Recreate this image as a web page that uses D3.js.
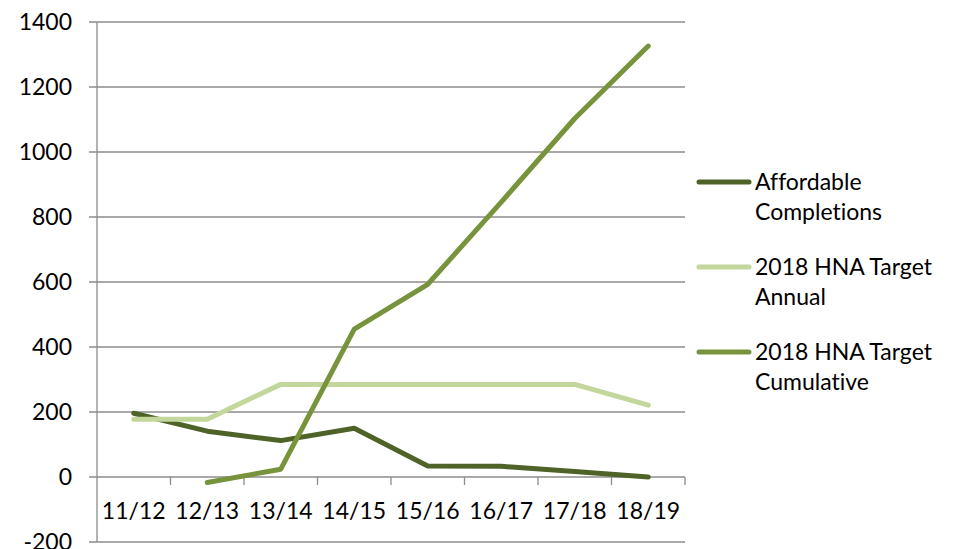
<!DOCTYPE html>
<html><head><meta charset="utf-8">
<script src="https://cdn.jsdelivr.net/npm/d3@7"></script>
<style>body{margin:0;background:#fff}svg{display:block}text{font-family:Lato,"Open Sans",sans-serif;fill:#000;font-variant-ligatures:none;font-feature-settings:"liga" 0}</style>
</head><body><svg id="c" width="960" height="549"></svg>
<script>
const categories = ["11/12","12/13","13/14","14/15","15/16","16/17","17/18","18/19"];
const affordable = [196,141,112,150,34,33,17,0];
const annual = [178,178,285,285,285,285,285,221];
const cumulative = [null,-17,24,455,593,846,1103,1326];
const yTicks = [-200,0,200,400,600,800,1000,1200,1400];
const seriesNames = [["Affordable","Completions"],["2018 HNA Target","Annual"],["2018 HNA Target","Cumulative"]];
const colors = ["#4F6228","#C3D69B","#77933C"];

const svg = d3.select("#c");
const L=97,R=685,T=22,B=542;
const FS="23px";
const x = d3.scaleBand().domain(categories).range([L,R]);
const y = d3.scaleLinear().domain([-200,1400]).range([B,T]);
const grid="#8c8c8c";
svg.append("g").selectAll("line").data(yTicks).join("line")
  .attr("x1",L-8).attr("x2",R).attr("y1",d=>y(d)).attr("y2",d=>y(d))
  .attr("stroke",grid).attr("stroke-width",1.3);
svg.append("line").attr("x1",L).attr("x2",L).attr("y1",T).attr("y2",B).attr("stroke",grid).attr("stroke-width",1.3);
svg.append("g").selectAll("text").data(yTicks).join("text")
  .attr("x",72).attr("y",d=>y(d)).attr("dy","0.35em").attr("text-anchor","end")
  .style("font-size",FS).text(d=>d);
const bounds = categories.map(c=>x(c)+x.bandwidth());
svg.append("g").selectAll("line").data(bounds).join("line")
  .attr("x1",d=>d).attr("x2",d=>d).attr("y1",y(0)).attr("y2",y(0)+8)
  .attr("stroke",grid).attr("stroke-width",1.3);
svg.append("g").selectAll("text").data(categories).join("text")
  .attr("x",d=>x(d)+x.bandwidth()/2).attr("y",y(0)+42).attr("text-anchor","middle")
  .style("font-size",FS).text(d=>d);
const line = d3.line().defined(d=>d!=null).x((d,i)=>x(categories[i])+x.bandwidth()/2).y(d=>y(d));
[affordable,annual,cumulative].forEach((s,i)=>{
  svg.append("path").attr("d",line(s)).attr("fill","none").attr("stroke",colors[i])
    .attr("stroke-width",5).attr("stroke-linecap","round").attr("stroke-linejoin","round");
});
seriesNames.forEach((n,i)=>{
  const cy = 182 + i*85;
  svg.append("line").attr("x1",699).attr("x2",749).attr("y1",cy).attr("y2",cy)
    .attr("stroke",colors[i]).attr("stroke-width",5).attr("stroke-linecap","round");
  n.forEach((t,j)=>svg.append("text").attr("x",755).attr("y",cy+j*30).attr("dy","0.35em")
    .style("font-size",FS).text(t));
});
</script></body></html>
